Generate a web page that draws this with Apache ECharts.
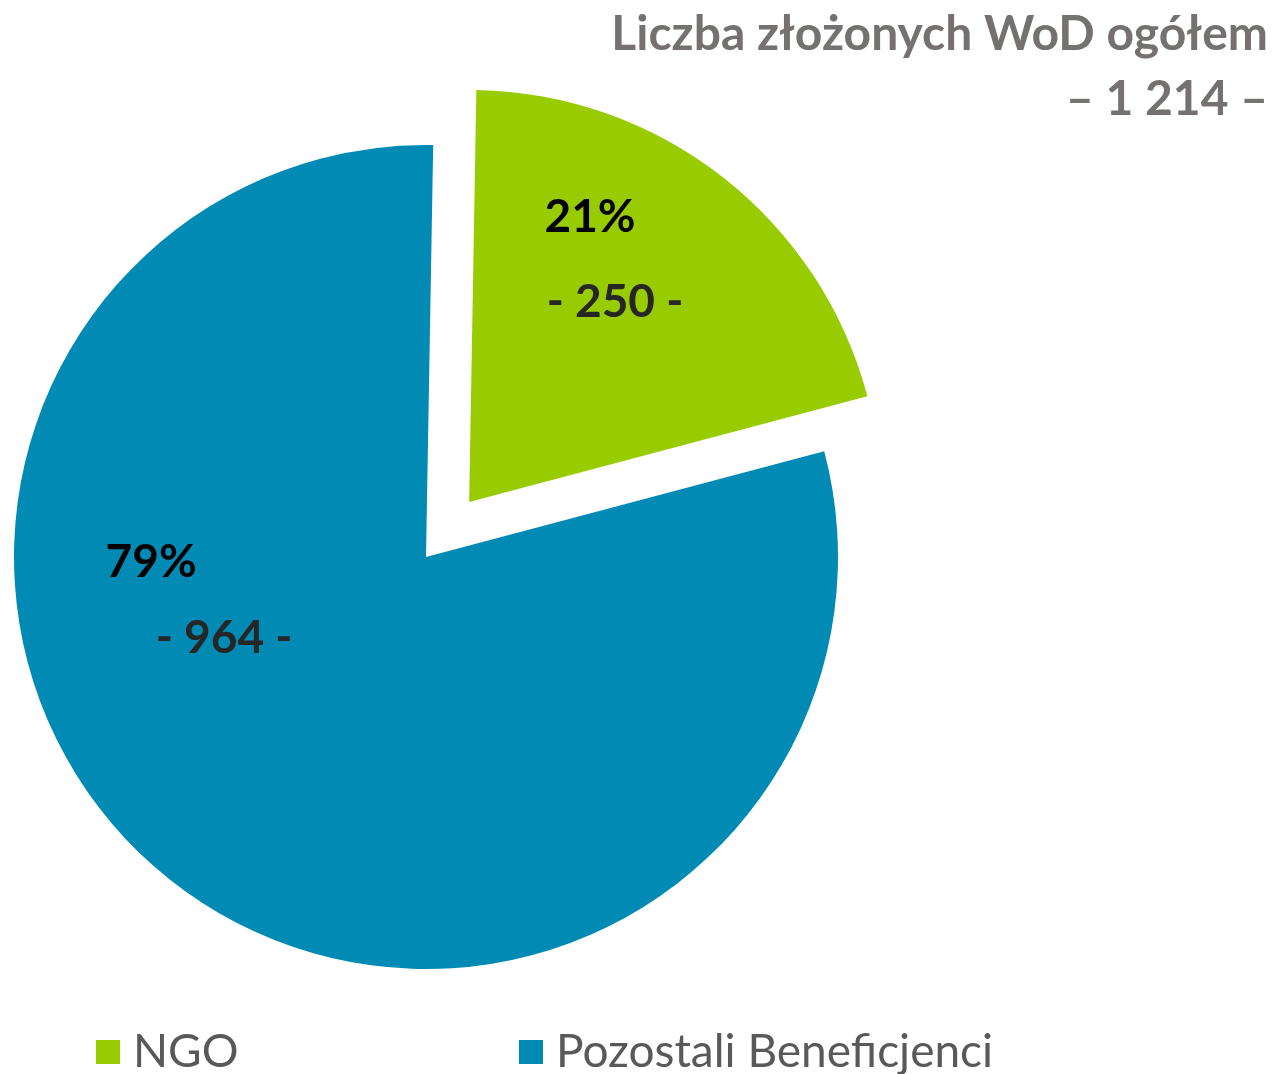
<!DOCTYPE html>
<html>
<head>
<meta charset="utf-8">
<script src="https://cdn.jsdelivr.net/npm/echarts@6/dist/echarts.min.js"></script>
<style>
  html, body { margin: 0; padding: 0; background: #fff; }
  #chart { width: 1278px; height: 1074px; }
</style>
</head>
<body>
<div id="chart"></div>
<script>
// data
let categories = ['NGO', 'Pozostali Beneficjenci'];
let values = [250, 964];
let total = 1214;
let titleLines = ['Liczba złożonych WoD ogółem', '– ' + '1 214' + ' –'];

let colors = ['#99cc00', '#008ab4', '#767171', '#595959', '#262626'];
let font = 'Lato, "Open Sans", sans-serif';

// nudges of the inside labels from their default spot
let labelShift = [[17, -78], [-73, -121]];

let myChart = echarts.init(document.getElementById('chart'));

let pieData = categories.map(function (name, i) {
    return {
        name: name,
        value: values[i],
        selected: i === 0
    };
});

let legendText = {
    color: colors[3],
    fontFamily: font,
    fontSize: 46,
    padding: [0, 0, 0, 8]
};

let option = {
    color: colors,
    backgroundColor: '#fff',
    animation: false,
    title: {
        text: titleLines.join('\n'),
        left: 'right',
        top: 0,
        padding: [2, 10, 5, 5],
        textStyle: {
            color: colors[2],
            fontFamily: font,
            fontWeight: 'bold',
            fontSize: 48,
            lineHeight: 65,
            align: 'right'
        }
    },
    legend: [{
        data: [categories[0]],
        left: 91,
        top: 1024,
        icon: 'rect',
        itemWidth: 24,
        itemHeight: 24,
        selectedMode: false,
        textStyle: legendText
    }, {
        data: [categories[1]],
        left: 514,
        top: 1024,
        icon: 'rect',
        itemWidth: 24,
        itemHeight: 24,
        selectedMode: false,
        textStyle: legendText
    }],
    series: [{
        name: 'WoD',
        type: 'pie',
        center: [426, 557],
        radius: [0, 412],
        startAngle: 89,
        clockwise: true,
        selectedMode: 'single',
        selectedOffset: 70,
        percentPrecision: 0,
        avoidLabelOverlap: false,
        data: pieData,
        emphasis: { scale: false, disabled: true },
        label: {
            show: true,
            position: 'inside',
            fontFamily: font,
            formatter: function (p) {
                let k = p.dataIndex === 0 ? 'a' : 'b';
                return '{p' + k + '|' + Math.round(p.percent) + '%}\n{v' + k + '|- ' + p.value + ' -}';
            },
            rich: {
                pa: { fontFamily: font, fontSize: 46, fontWeight: 'bold', color: '#000', padding: [0, 50, 0, 0], lineHeight: 85 },
                va: { fontFamily: font, fontSize: 46, fontWeight: 'bold', color: colors[4], lineHeight: 85 },
                pb: { fontFamily: font, fontSize: 46, fontWeight: 'bold', color: '#000', padding: [0, 146, 0, 0], lineHeight: 76 },
                vb: { fontFamily: font, fontSize: 46, fontWeight: 'bold', color: colors[4], lineHeight: 76 }
            }
        },
        labelLine: { show: false },
        labelLayout: function (params) {
            let s = labelShift[params.dataIndex];
            return { dx: s[0], dy: s[1] };
        }
    }]
};

myChart.setOption(option);
</script>
</body>
</html>
